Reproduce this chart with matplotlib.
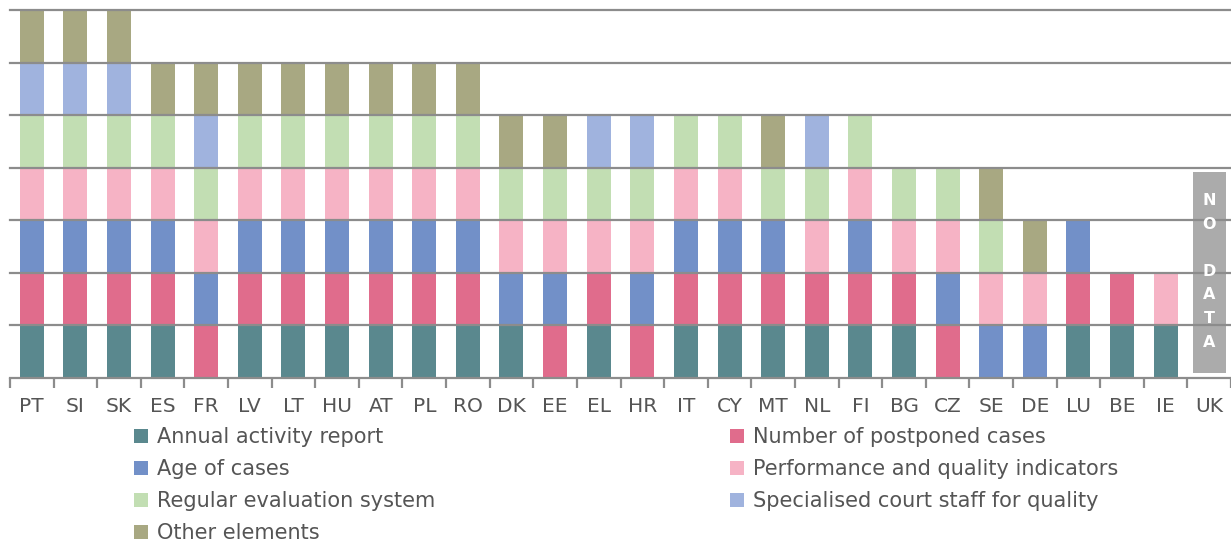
import matplotlib
matplotlib.use("Agg")
import matplotlib.pyplot as plt
from matplotlib.patches import Patch, Rectangle
import numpy as np

countries = ["PT","SI","SK","ES","FR","LV","LT","HU","AT","PL","RO","DK","EE","EL",
             "HR","IT","CY","MT","NL","FI","BG","CZ","SE","DE","LU","BE","IE","UK"]

series_names = ["Annual activity report", "Number of postponed cases", "Age of cases",
                "Performance and quality indicators", "Regular evaluation system",
                "Specialised court staff for quality", "Other elements"]
colors = ["#5a888e", "#e06c8c", "#7290c8", "#f6b3c5", "#c2deb3", "#a0b3de", "#a8a882"]

annual      = [1,1,1,1,0,1,1,1,1,1,1,1,0,1,0,1,1,1,1,1,1,0,0,0,1,1,1,0]
postponed   = [1,1,1,1,1,1,1,1,1,1,1,0,1,1,1,1,1,1,1,1,1,1,0,0,1,1,0,0]
age         = [1,1,1,1,1,1,1,1,1,1,1,1,1,0,1,1,1,1,0,1,0,1,1,1,1,0,0,0]
performance = [1,1,1,1,1,1,1,1,1,1,1,1,1,1,1,1,1,0,1,1,1,1,1,1,0,0,1,0]
regular     = [1,1,1,1,1,1,1,1,1,1,1,1,1,1,1,1,1,1,1,1,1,1,1,0,0,0,0,0]
specialised = [1,1,1,0,1,0,0,0,0,0,0,0,0,1,1,0,0,0,1,0,0,0,0,0,0,0,0,0]
other       = [1,1,1,1,1,1,1,1,1,1,1,1,1,0,0,0,0,1,0,0,0,0,1,1,0,0,0,0]
no_data = ["UK"]

series = [annual, postponed, age, performance, regular, specialised, other]

W, H = 1231, 544
fig = plt.figure(figsize=(W/100, H/100), dpi=100)
ax = fig.add_axes([10/W, 1-378/H, 1-10/W, (378-10)/H])

x = np.arange(len(countries))
bottom = np.zeros(len(countries))
for vals, col in zip(series, colors):
    v = np.array(vals, dtype=float)
    ax.bar(x, v, bottom=bottom, width=0.55, color=col, zorder=2, linewidth=0)
    bottom += v

for yv in range(0, 8):
    ax.axhline(yv, color="#8c8c8c", lw=1.6, zorder=3, clip_on=False)

# No data box
for c in no_data:
    i = countries.index(c)
    ax.add_patch(Rectangle((i-0.38, 0.09), 0.76, 3.83, facecolor="#ababab",
                           edgecolor="none", zorder=2))
    ax.text(i, 2.03, "N\nO\n\nD\nA\nT\nA", ha="center", va="center", color="white",
            fontsize=11.5, fontweight="bold", linespacing=1.72, zorder=4)

ax.set_xlim(-0.5, len(countries)-0.5)
ax.set_ylim(0, 7)
ax.set_yticks([])
for s in ax.spines.values():
    s.set_visible(False)
ax.set_xticks(x)
ax.set_xticklabels(countries, fontsize=14.5, color="#555555")
ax.tick_params(axis="x", which="major", length=0, pad=14)
ax.set_xticks(np.arange(-0.5, len(countries), 1.0), minor=True)
ax.tick_params(axis="x", which="minor", length=7, width=1.6, color="#8c8c8c", direction="out")

handles = [Patch(facecolor=c, edgecolor="none") for c in colors]
order1 = [0, 2, 4, 6]
order2 = [1, 3, 5]
common = dict(frameon=False, fontsize=15, handlelength=0.65, handleheight=0.65,
              handletextpad=0.45, labelspacing=0.58, borderaxespad=0, borderpad=0,
              labelcolor="#555555")
leg1 = fig.legend([handles[i] for i in order1], [series_names[i] for i in order1],
                  loc="upper left", bbox_to_anchor=(134/W, 1-427/H), **common)
leg2 = fig.legend([handles[i] for i in order2], [series_names[i] for i in order2],
                  loc="upper left", bbox_to_anchor=(730/W, 1-427/H), **common)

fig.savefig("out.png", dpi=100)
